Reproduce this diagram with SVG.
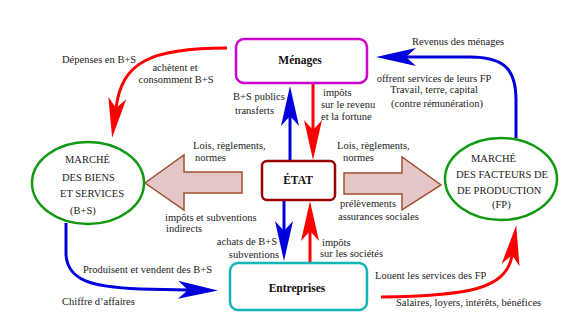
<svg xmlns="http://www.w3.org/2000/svg" width="568" height="315" viewBox="0 0 568 315">
<style>
text{font-family:"Liberation Serif","Times New Roman",serif;font-size:10.5px;fill:#222}
.b{font-weight:bold;font-size:11.5px;fill:#111}
.c{text-anchor:middle}
.r{text-anchor:end}
.bl{fill:none;stroke:#0000dd;stroke-width:3}
.rd{fill:none;stroke:#ff0000;stroke-width:3}
.ell{fill:#fff;stroke:#119911;stroke-width:2.5}
.big{fill:#e5c6c6;stroke:#a0522d;stroke-width:1.5}
</style>
<defs>
<marker id="hb" markerUnits="userSpaceOnUse" markerWidth="40" markerHeight="20" viewBox="0 0 40 20" refX="10" refY="10" orient="auto" overflow="visible"><path d="M40,10 L0,1 L10,10 L0,19 Z" fill="#0000dd"/></marker>
<marker id="hr" markerUnits="userSpaceOnUse" markerWidth="40" markerHeight="20" viewBox="0 0 40 20" refX="10" refY="10" orient="auto" overflow="visible"><path d="M40,10 L0,1 L10,10 L0,19 Z" fill="#ff0000"/></marker>
</defs>
<rect width="568" height="315" fill="#fff"/>

<g id="connectors">
<polygon id="arrow-left" class="big" points="242,172 184,172 184,155 145,183 184,210 184,193 242,193"/>
<polygon id="arrow-right" class="big" points="344,173 402,173 402,157 441,185 402,210 402,194 344,194"/>
<path class="rd" d="M227,48 C150,48 122,62 116,108" marker-end="url(#hr)"/>
<path class="bl" d="M516,138 L516,100 C516,70 505,57 470,57 L406,57" marker-end="url(#hb)"/>
<path class="bl" d="M66,223 L66,255 C68,280 90,287 140,289 L188,290" marker-end="url(#hb)"/>
<path class="rd" d="M381,297 C465,296 507,290 512,255" marker-end="url(#hr)"/>
<path class="bl" d="M290,161 L290,116" marker-end="url(#hb)"/>
<path class="rd" d="M313,84 L313,130" marker-end="url(#hr)"/>
<path class="bl" d="M284,200 L284,231" marker-end="url(#hb)"/>
<path class="rd" d="M310,263 L310,231" marker-end="url(#hr)"/>
</g>

<g id="menages">
<rect x="236" y="39" width="131" height="44" rx="8" fill="#fff" stroke="#cc00cc" stroke-width="2.5"/>
<text class="b c" x="300" y="64">Ménages</text>
</g>
<g id="etat">
<rect x="262" y="161" width="73" height="39" rx="5" fill="#fff" stroke="#990000" stroke-width="2.5"/>
<text class="b c" x="298" y="184">ÉTAT</text>
</g>
<g id="entreprises">
<rect x="230" y="263" width="137" height="47" rx="8" fill="#fff" stroke="#11b5b5" stroke-width="2.5"/>
<text class="b c" x="297" y="292">Entreprises</text>
</g>
<g id="marche-bs">
<ellipse class="ell" cx="88" cy="183" rx="56" ry="41"/>
<text x="65" y="163">MARCHÉ</text>
<text x="62" y="181">DES BIENS</text>
<text x="60" y="197">ET SERVICES</text>
<text x="70" y="214">(B+S)</text>
</g>
<g id="marche-fp">
<ellipse class="ell" cx="501" cy="179" rx="56" ry="41"/>
<text x="471" y="162">MARCHÉ</text>
<text x="456" y="178">DES FACTEURS DE</text>
<text x="457" y="194">DE PRODUCTION</text>
<text x="492" y="208">(FP)</text>
</g>

<g id="labels">
<text x="62" y="63">Dépenses en B+S</text>
<text class="c" x="175" y="71">achètent et</text>
<text class="c" x="176" y="83">consomment B+S</text>
<text x="233" y="100">B+S publics</text>
<text x="235" y="114">transferts</text>
<text x="323" y="96">impôts</text>
<text x="321" y="108">sur le revenu</text>
<text x="321" y="120">et la fortune</text>
<text x="412" y="45">Revenus des ménages</text>
<text class="c" x="434" y="82">offrent services de leurs FP</text>
<text class="c" x="434" y="93">Travail, terre, capital</text>
<text class="c" x="437" y="107">(contre rémunération)</text>
<text x="193" y="149">Lois, règlements,</text>
<text x="195" y="161">normes</text>
<text x="337" y="149">Lois, règlements,</text>
<text x="343" y="161">normes</text>
<text x="165" y="221">impôts et subventions</text>
<text x="166" y="232">indirects</text>
<text x="340" y="207">prélèvements</text>
<text x="338" y="220">assurances sociales</text>
<text class="r" x="277" y="245">achats de B+S</text>
<text class="r" x="279" y="258">subventions</text>
<text x="322" y="246">impôts</text>
<text x="320" y="257">sur les sociétés</text>
<text x="83" y="273">Produisent et vendent des B+S</text>
<text x="62" y="305">Chiffre d’affaires</text>
<text x="375" y="279">Louent les services des FP</text>
<text x="396" y="306">Salaires, loyers, intérêts, bénéfices</text>
</g>
</svg>
